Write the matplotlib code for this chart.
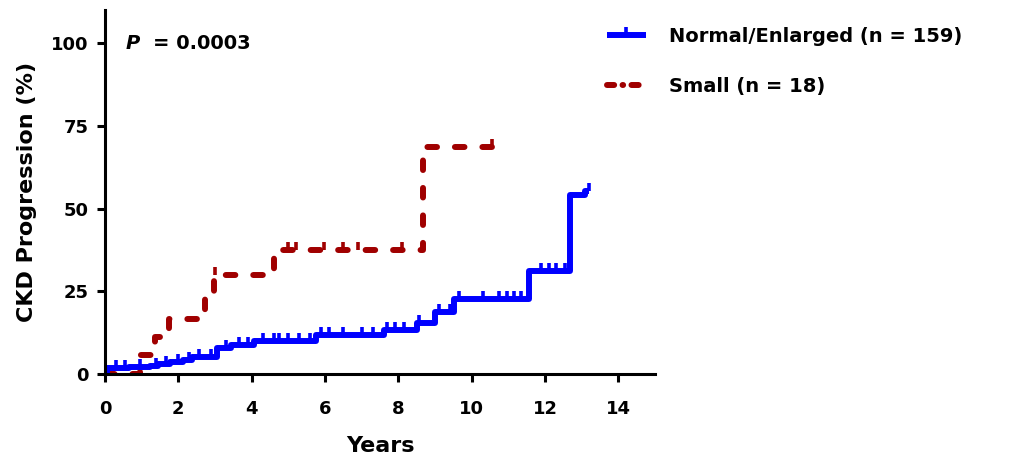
import numpy as np
import matplotlib
matplotlib.use("Agg")
import matplotlib.pyplot as plt
from matplotlib.path import Path
from matplotlib.lines import Line2D

# ---------------- data ----------------
blue_t = [0, 0.05, 0.65, 1.22, 1.45, 1.77, 2.14, 2.38, 3.06, 3.43, 4.07, 5.75,
          7.6, 8.5, 9.0, 9.53, 11.56, 12.68, 13.1]
blue_v = [0, 1.7, 2.0, 2.5, 2.9, 3.5, 4.2, 5.0, 8.0, 8.7, 10.1, 11.8,
          13.4, 15.4, 18.8, 22.7, 31.2, 54.2, 55.2]
blue_end = 13.2
blue_censor = [0.3, 0.55, 0.95, 1.4, 1.65, 2.0, 2.3, 2.55, 2.9, 3.3, 3.65, 3.9,
               4.3, 4.6, 4.75, 5.0, 5.3, 5.6, 5.9, 6.1, 6.5, 7.0, 7.3, 7.7, 7.9,
               8.15, 8.55, 9.1, 9.4, 9.65, 10.3, 10.75, 10.95, 11.15, 11.35,
               11.9, 12.1, 12.3, 12.55, 13.2]

red_t = [0, 0.96, 1.37, 1.75, 2.72, 2.97, 4.6, 8.68]
red_v = [0, 5.6, 11.1, 16.7, 23.0, 30.0, 37.5, 68.75]
red_end = 10.55
red_censor = [3.01, 4.98, 5.22, 5.97, 6.5, 6.9, 8.1, 10.55]

labels = ["Normal/Enlarged (n = 159)", "Small (n = 18)"]
x_ticks = [0, 2, 4, 6, 8, 10, 12, 14]
y_ticks = [0, 25, 50, 75, 100]
p_text = "= 0.0003"

BLUE = "#0000FF"
RED = "#A00000"

plt.rcParams['font.family'] = ['DejaVu Sans']
plt.rcParams['font.weight'] = 'bold'

fig = plt.figure(figsize=(10.13, 4.66), dpi=100)
ax = fig.add_axes([105/1013, 1-374/466, 550/1013, 364/466])

up_tick = Path([(0, 0), (0, 1)], [Path.MOVETO, Path.LINETO])


def value_at(ts, vs, t):
    idx = np.searchsorted(ts, t, side='right') - 1
    return vs[max(idx, 0)]


def draw(ts, vs, end, censor, color, dashed, z):
    xs = list(ts) + [end]
    ys = list(vs) + [vs[-1]]
    ln, = ax.step(xs, ys, color=color, lw=4.3, where='post', zorder=z)
    if dashed:
        ln.set_dashes((1.6, 3.0))
        ln.set_dash_capstyle('round')
    else:
        ln.set_solid_capstyle('butt')
    cy = [value_at(ts, vs, c) for c in censor]
    ax.plot(censor, cy, linestyle='none', marker=up_tick, markersize=11,
            markeredgewidth=2.6, color=color, zorder=z)
    return ln


draw(red_t, red_v, red_end, red_censor, RED, True, 2.2)
draw(blue_t, blue_v, blue_end, blue_censor, BLUE, False, 2.4)

ax.set_xlim(0, 15)
ax.set_ylim(0, 110)
ax.set_xticks(x_ticks)
ax.set_yticks(y_ticks)
ax.tick_params(axis='both', direction='out', length=6, width=2.2, labelsize=13)
ax.tick_params(axis='x', pad=13)
ax.tick_params(axis='y', pad=6)
for lab in ax.get_xticklabels() + ax.get_yticklabels():
    lab.set_fontweight('bold')
for s in ['top', 'right']:
    ax.spines[s].set_visible(False)
for s in ['left', 'bottom']:
    ax.spines[s].set_linewidth(2.2)

ax.set_xlabel("Years", fontsize=16, fontweight='bold', labelpad=13)
ax.set_ylabel("CKD Progression (%)", fontsize=16, fontweight='bold', labelpad=10)

ax.text(0.55, 100, "P", fontsize=14, fontweight='bold', style='italic',
        va='center', ha='left')
ax.text(1.3, 100, p_text, fontsize=14, fontweight='bold', va='center', ha='left')

h1 = Line2D([], [], color=BLUE, lw=4.3, marker=up_tick, markersize=11,
            markeredgewidth=2.6)
h1.set_solid_capstyle('butt')
h2 = Line2D([], [], color=RED, lw=4.3, dashes=(1.2, 1.4, 0.1, 1.4),
            dash_capstyle='round')
leg = ax.legend([h1, h2], labels, loc='upper left',
                bbox_to_anchor=(607/1013, 1-27/466), bbox_transform=fig.transFigure,
                frameon=False, fontsize=14, handlelength=2.0, handletextpad=1.2,
                labelspacing=1.6, borderpad=0, borderaxespad=0, numpoints=1)
for t in leg.get_texts():
    t.set_fontweight('bold')

fig.savefig("out.png", dpi=100)
